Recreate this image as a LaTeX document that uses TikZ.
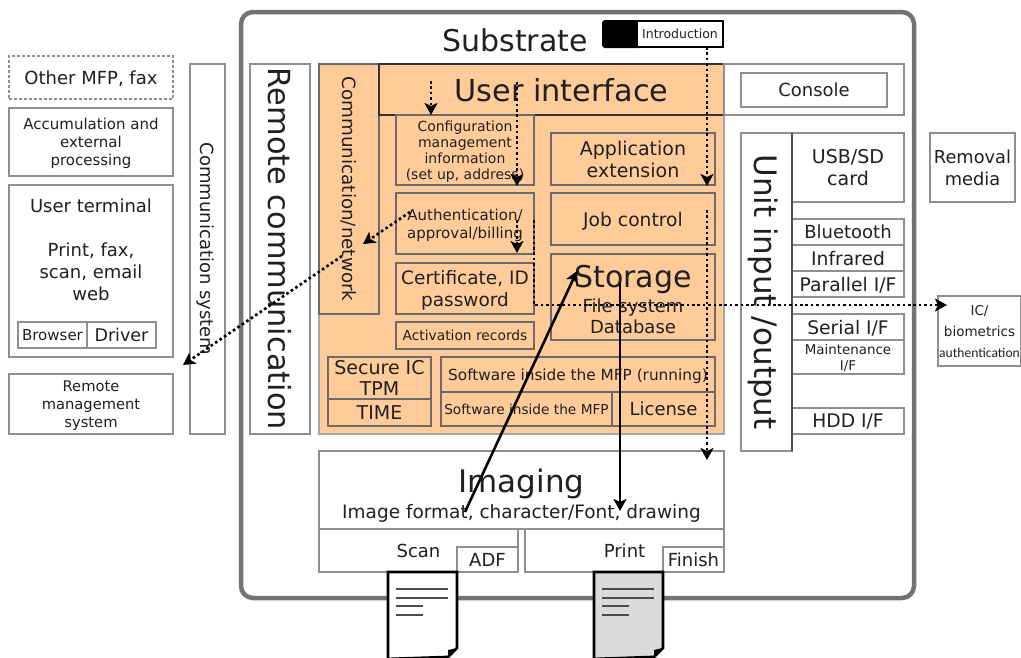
\documentclass[tikz,border=0pt]{standalone}
\usepackage{fontspec}
\setmainfont{DejaVu Sans}
\newfontfamily\carlitofont{Carlito}
\usetikzlibrary{arrows.meta}
\definecolor{peach}{HTML}{FFCC99}
\definecolor{linegray}{HTML}{8F8F8F}
\definecolor{inkgray}{HTML}{202020}
\tikzset{sz/.style n args={2}{font=\fontsize{#1}{#2}\selectfont}}
\begin{document}
\begin{tikzpicture}
	[x=1pt,y=-1pt,
	box/.style={rectangle,draw=linegray,line width=1.1pt,fill=white,text=inkgray,align=center,inner sep=0pt,outer sep=0pt,text depth=0pt},
	orange/.style={box,draw=black!58,fill=peach},
	blank/.style={box,fill=none},
	flow/.style={->,black,line width=2.6pt,dash pattern=on 2.6pt off 2.8pt},
	solidflow/.style={->,black,line width=2.6pt},
	>={Stealth[inset=3pt,length=12pt,width=13pt]}]
	\useasboundingbox (0,0) rectangle (1021,657);
	% outside the machine
	\node[box,densely dashed,sz={18}{20},minimum width=164pt,minimum height=43pt,name=other]at(91,77.5){Other MFP, fax};
	\node[box,sz={15}{18},minimum width=164pt,minimum height=68pt,name=accum]at(91,142){Accumulation and\\external\\processing};
	\node[box,minimum width=164pt,minimum height=172pt,name=terminal]at(91,271){};
	\node[blank,draw=none,sz={18}{22},name=terminaltext]at(91,250){User terminal\\[22pt]Print, fax,\\scan, email\\web};
	\node[box,sz={15}{16},minimum width=69pt,minimum height=26pt,name=browser]at(52.5,335){Browser};
	\node[box,sz={17.5}{19},minimum width=69pt,minimum height=26pt,name=driver]at(121.5,335){Driver};
	\node[box,sz={14.7}{18},minimum width=164pt,minimum height=60pt,name=remote]at(91,404){Remote\\management\\system};
	\node[box,rotate=-90,sz={18}{22},minimum width=370pt,minimum height=35pt,name=commsys]at(207.5,249){Communication system};
	\node[box,sz={17.8}{22},minimum width=85pt,minimum height=69pt,name=removal]at(972.5,167.5){Removal\\media};
	\node[box,sz={13.5}{21},minimum width=83pt,minimum height=70pt,name=ic]at(979.5,331){IC/\\biometrics\\{\carlitofont\fontsize{13.6}{21}\selectfont authentication}};
	% the machine
	\node[box,draw=black!55,line width=4.5pt,rounded corners=12pt,minimum width=673pt,minimum height=586pt,name=substrate]at(577.5,305){};
	\node[blank,draw=none,sz={30}{36},name=substratetext]at(515,40){Substrate};
	\node[rectangle,fill=black,rounded corners=3pt,minimum width=40pt,minimum height=28pt,inner sep=0pt,name=introback]at(622,34){};
	\node[box,draw=black,line width=2.8pt,sz={12.5}{14},minimum width=86pt,minimum height=26pt,name=intro]at(680,34){Introduction};
	\node[box,rotate=-90,sz={30.4}{34},minimum width=370pt,minimum height=60pt,name=remotecomm]at(280,249){Remote communication};
	% orange block
	\node[orange,draw=black!35,minimum width=405pt,minimum height=370pt,name=core]at(521.5,249){};
	\node[orange,rotate=-90,sz={18.3}{20},minimum width=250pt,minimum height=60pt,name=commnet]at(349,189){Communication/network};
	\node[orange,draw=black!80,sz={30.3}{34},minimum width=345pt,minimum height=51pt,name=ui]at(551.5,89.5){\hspace*{20pt}User interface};
	\node[box,minimum width=180pt,minimum height=51pt,name=consoleback]at(814,89.5){};
	\node[box,sz={18}{20},minimum width=146pt,minimum height=34pt,name=console]at(814,90){Console};
	\node[orange,sz={14}{16},minimum width=138pt,minimum height=70pt,name=config]at(465,150){Configuration\\management\\information\\(set up, address)};
	\node[orange,sz={15}{18},minimum width=138pt,minimum height=61pt,name=auth]at(465,223.5){Authentication/\\approval/billing};
	\node[orange,sz={18.5}{22},minimum width=138pt,minimum height=51pt,name=cert]at(465,288.5){Certificate, ID\\password};
	\node[orange,sz={13.8}{16},minimum width=138pt,minimum height=27pt,name=activation]at(465,335.5){Activation records};
	\node[orange,sz={19}{22},minimum width=164pt,minimum height=52pt,name=appext]at(633,159){Application\\extension};
	\node[orange,sz={18.7}{20},minimum width=164pt,minimum height=52pt,name=job]at(633,219){Job control};
	\node[orange,sz={18}{21},minimum width=164pt,minimum height=86pt,name=storage]at(633,297){{\fontsize{30}{32}\selectfont\rule{0pt}{26pt}Storage}\\[4pt]File system\\Database};
	\node[orange,sz={19}{21},minimum width=103pt,minimum height=42pt,name=secure]at(379.5,378){Secure IC\\TPM};
	\node[orange,sz={19}{20},minimum width=103pt,minimum height=27pt,name=time]at(379.5,412.5){TIME};
	\node[orange,sz={15.3}{18},minimum width=274pt,minimum height=35pt,name=running]at(578,374.5){Software inside the MFP (running)};
	\node[orange,sz={13.7}{16},minimum width=171pt,minimum height=34pt,name=software]at(526.5,409){Software inside the MFP};
	\node[orange,sz={18}{20},minimum width=103pt,minimum height=34pt,name=license]at(663.5,409){License};
	% right column
	\node[box,rotate=-90,sz={31}{34},minimum width=318pt,minimum height=51pt,name=unit]at(766.5,292){Unit input /output};
	\node[box,sz={19}{22},minimum width=112pt,minimum height=69pt,name=usb]at(848,167.5){USB/SD\\card};
	\node[box,sz={18}{20},minimum width=112pt,minimum height=26pt,name=bluetooth]at(848,232){Bluetooth};
	\node[box,sz={18.7}{20},minimum width=112pt,minimum height=26pt,name=infrared]at(848,258){Infrared};
	\node[box,sz={18.7}{20},minimum width=112pt,minimum height=26pt,name=parallel]at(848,284){Parallel I/F};
	\node[box,sz={18.7}{20},minimum width=112pt,minimum height=26pt,name=serial]at(848,327){Serial I/F};
	\node[box,sz={13.4}{16},minimum width=112pt,minimum height=34pt,name=maint]at(848,357){Maintenance\\I/F};
	\node[box,sz={18.7}{20},minimum width=112pt,minimum height=26pt,name=hdd]at(848,421){HDD I/F};
	\draw[black!70,line width=1.1pt] (unit.north west) -- (unit.north east);
	% imaging
	\node[box,sz={18.5}{20},minimum width=405pt,minimum height=78pt,name=imaging]at(521.5,490){{\fontsize{31}{32}\selectfont\rule{0pt}{31pt}Imaging}\\[4pt]Image format, character/Font, drawing};
	\node[box,sz={18}{20},minimum width=199pt,minimum height=43pt,name=scan]at(418.5,550.5){Scan};
	\node[box,sz={18}{20},minimum width=61pt,minimum height=25pt,name=adf]at(487.5,559.5){ADF};
	\node[box,sz={18}{20},minimum width=199pt,minimum height=43pt,name=print]at(624.5,550.5){Print};
	\node[box,sz={18}{20},minimum width=61pt,minimum height=25pt,name=finish]at(693.5,559.5){Finish};
	% paper sheets
	\foreach \x/\sheet in {388/white,594/black!14}{
		\draw[line width=2.8pt,fill=\sheet] (\x,572) -- (\x+69,572) -- (\x+69,648) -- (\x+60,657) -- (\x,659) -- cycle;
		\fill[black] (\x+69,648) -- (\x+60,657) -- (\x+60,650) -- cycle;
		\draw[black!70,line width=1.1pt] (\x+8,589) -- (\x+60,589);
		\draw[black!70,line width=1.1pt] (\x+8,598) -- (\x+60,598);
		\draw[black!70,line width=1.1pt] (\x+8,606) -- (\x+35,606);
		\draw[black!70,line width=1.1pt] (\x+8,615) -- (\x+35,615);
	}
	% free ends of the connectors
	\coordinate (uia) at (431,81);
	\coordinate (uib) at (517,82);
	\coordinate (configa) at (431,115);
	\coordinate (configb) at (517,186);
	\coordinate (introout) at (707,47);
	\coordinate (appin) at (707,186);
	\coordinate (jobout) at (707,210);
	\coordinate (imagingin) at (707,460);
	\coordinate (autha) at (517,220);
	\coordinate (authb) at (517,253);
	\coordinate (authc) at (534,220);
	\coordinate (bend) at (534,305);
	\coordinate (icin) at (947,305);
	\coordinate (authd) at (410,212);
	\coordinate (netin) at (363,244);
	\coordinate (netout) at (342,256);
	\coordinate (remotein) at (183,365);
	\coordinate (imagingout) at (465,512);
	\coordinate (storagein) at (577,271);
	\coordinate (storageout) at (620,283);
	\coordinate (imagingend) at (620,511);
	% connectors
	\draw[flow] (uia) -- (configa);
	\draw[flow] (uib) -- (configb);
	\draw[flow] (introout) -- (appin);
	\draw[flow] (jobout) -- (imagingin);
	\draw[flow] (autha) -- (authb);
	\draw[flow] (authc) -- (bend) -- (icin);
	\draw[flow] (authd) -- (netin);
	\draw[flow] (netout) -- (remotein);
	\draw[solidflow] (imagingout) -- (storagein);
	\draw[solidflow] (storageout) -- (imagingend);
\end{tikzpicture}
\end{document}
